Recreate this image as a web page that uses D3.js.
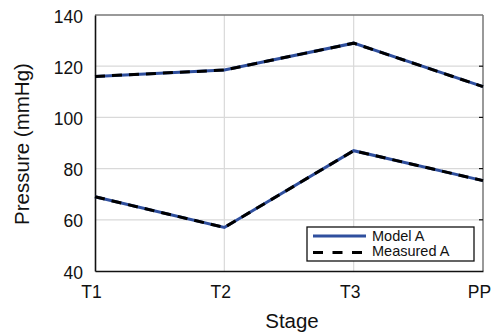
<!DOCTYPE html>
<html>
<head>
<meta charset="utf-8">
<script src="https://cdn.jsdelivr.net/npm/d3@7"></script>
<style>
  html, body { margin: 0; padding: 0; background: #fff; }
  svg { display: block; font-family: "Liberation Sans", Arial, Helvetica, sans-serif; }
</style>
</head>
<body>
<svg id="chart" width="498" height="333"></svg>
<script>
// Stages and pressure readings
const stages = ["T1", "T2", "T3", "PP"];
const upperModel = [116, 118.5, 129, 112];
const lowerModel = [69, 57, 87, 75.3];
const upperMeasured = [116, 118.5, 129, 112];
const lowerMeasured = [69, 57, 87, 75.3];
const yTicks = [40, 60, 80, 100, 120, 140];
const seriesNames = ["Model A", "Measured A"];

const margin = { left: 95, right: 15, top: 15, bottom: 62 };
const W = 498, H = 333;
const iw = W - margin.left - margin.right;
const ih = H - margin.top - margin.bottom;

const svg = d3.select("#chart");
const g = svg.append("g").attr("transform", `translate(${margin.left},${margin.top})`);

const x = d3.scalePoint().domain(stages).range([0, iw]);
const y = d3.scaleLinear().domain([40, 140]).range([ih, 0]);

// grid
g.append("g").selectAll("line.h").data(yTicks.slice(1, -1)).join("line")
  .attr("x1", 0).attr("x2", iw)
  .attr("y1", d => y(d)).attr("y2", d => y(d))
  .attr("stroke", "#d9d9d9").attr("stroke-width", 1.2);
g.append("g").selectAll("line.v").data(stages.slice(1, -1)).join("line")
  .attr("y1", 0).attr("y2", ih)
  .attr("x1", d => x(d)).attr("x2", d => x(d))
  .attr("stroke", "#d9d9d9").attr("stroke-width", 1.2);

// top and right frame
g.append("line").attr("x1", 0).attr("x2", iw).attr("y1", 0).attr("y2", 0)
  .attr("stroke", "#777").attr("stroke-width", 1.5);
g.append("line").attr("x1", iw).attr("x2", iw).attr("y1", 0).attr("y2", ih)
  .attr("stroke", "#777").attr("stroke-width", 1.5);
// right-side inner ticks
g.append("g").selectAll("line").data(yTicks.slice(1, -1)).join("line")
  .attr("x1", iw - 4).attr("x2", iw)
  .attr("y1", d => y(d)).attr("y2", d => y(d))
  .attr("stroke", "#111").attr("stroke-width", 1.2);

// axes
const yAxis = g.append("g")
  .call(d3.axisLeft(y).tickValues(yTicks).tickSize(0).tickPadding(12));
const xAxis = g.append("g").attr("transform", `translate(0,${ih})`)
  .call(d3.axisBottom(x).tickSize(0).tickPadding(15));
[yAxis, xAxis].forEach(a => {
  a.select(".domain").attr("stroke", "#111").attr("stroke-width", 1.6);
  a.selectAll("text").attr("font-size", 17.5).attr("fill", "#111")
    .attr("font-family", "Liberation Sans, Arial, sans-serif");
});
yAxis.selectAll("text").attr("dy", "0.4em");
xAxis.selectAll("text").attr("dy", "0.71em").attr("dx", "-4");

// axis titles
svg.append("text")
  .attr("transform", `translate(29,${margin.top + ih / 2 + 1}) rotate(-90)`)
  .attr("text-anchor", "middle").attr("font-size", 20.5).attr("fill", "#111")
  .text("Pressure (mmHg)");
svg.append("text")
  .attr("x", margin.left + iw / 2 + 3).attr("y", 328)
  .attr("text-anchor", "middle").attr("font-size", 20.5).attr("fill", "#111")
  .text("Stage");

// lines
const line = d3.line().x((d, i) => x(stages[i])).y(d => y(d));
const blue = "#2f4f9e";
[upperModel, lowerModel].forEach(s => {
  g.append("path").datum(s).attr("d", line)
    .attr("fill", "none").attr("stroke", blue).attr("stroke-width", 3);
});
[upperMeasured, lowerMeasured].forEach(s => {
  g.append("path").datum(s).attr("d", line)
    .attr("fill", "none").attr("stroke", "#000").attr("stroke-width", 3)
    .attr("stroke-dasharray", "10,7");
});

// legend
const lg = svg.append("g").attr("transform", "translate(307,227)");
lg.append("rect").attr("width", 167).attr("height", 34)
  .attr("fill", "#fff").attr("stroke", "#111").attr("stroke-width", 1.3);
lg.append("line").attr("x1", 6).attr("x2", 59).attr("y1", 9).attr("y2", 9)
  .attr("stroke", blue).attr("stroke-width", 3);
lg.append("line").attr("x1", 6).attr("x2", 59).attr("y1", 25.5).attr("y2", 25.5)
  .attr("stroke", "#000").attr("stroke-width", 3).attr("stroke-dasharray", "10,9.5");
seriesNames.forEach((n, i) => {
  lg.append("text").attr("x", 65).attr("y", 13.5 + i * 15.5)
    .attr("font-size", 14.5).attr("fill", "#111").text(n);
});
</script>
</body>
</html>
